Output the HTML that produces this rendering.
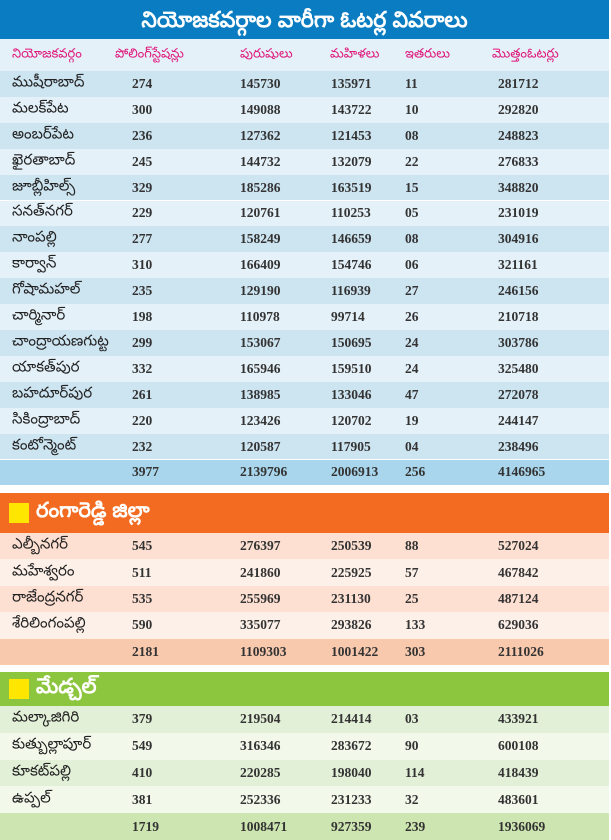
<!DOCTYPE html>
<html><head><meta charset="utf-8"><style>
body{margin:0;width:611px;height:840px;background:#fff;overflow:hidden;font-family:"Liberation Serif",serif;position:relative}
.bar{position:absolute;left:0;width:609px}
.r{position:absolute;left:0;width:609px;font-size:13.5px;font-weight:bold;color:#333}
.r span{position:absolute;top:50%;transform:translateY(-50%);white-space:nowrap}
.n{font-family:"Liberation Sans","Noto Sans CJK JP",sans-serif;font-weight:normal;font-size:15px;color:#222}
.sq{position:absolute;left:9px;width:20px;height:20px;background:#ffe600}
</style></head><body>
<div class="bar" style="top:0;height:39px;background:#0a7dc2;color:#fff;font:bold 22px 'Liberation Sans',sans-serif;text-align:center;line-height:39px">నియోజకవర్గాల వారీగా ఓటర్ల వివరాలు</div>
<div class="r" style="top:39px;height:32px;background:#e4f1f9;color:#e0157a;font-family:'Liberation Sans',sans-serif;font-weight:normal;font-size:13px">
<span style="left:12px">నియోజకవర్గం</span><span style="left:115px">పోలింగ్‌స్టేషన్లు</span><span style="left:240px">పురుషులు</span><span style="left:330px">మహిళలు</span><span style="left:405px">ఇతరులు</span><span style="left:492px">మొత్తంఓటర్లు</span></div>
<div id="t"></div>
<script>
function rows(top,h,data,cols,colsTotal){let s='';data.forEach((d,i)=>{let bg=d.t?colsTotal:cols[i%2];s+=`<div class="r" style="top:${top+i*h}px;height:${h}px;background:${bg}"><span class="n" style="left:12px">${d[0]}</span><span style="left:132px">${d[1]}</span><span style="left:240px">${d[2]}</span><span style="left:331px">${d[3]}</span><span style="left:405px">${d[4]}</span><span style="left:498px">${d[5]}</span></div>`});return s;}
let a=[["ముషీరాబాద్","274","145730","135971","11","281712"],["మలక్‌పేట","300","149088","143722","10","292820"],["అంబర్‌పేట","236","127362","121453","08","248823"],["ఖైరతాబాద్","245","144732","132079","22","276833"],["జూబ్లీహిల్స్","329","185286","163519","15","348820"],["సనత్‌నగర్","229","120761","110253","05","231019"],["నాంపల్లి","277","158249","146659","08","304916"],["కార్వాన్","310","166409","154746","06","321161"],["గోషామహల్","235","129190","116939","27","246156"],["చార్మినార్","198","110978","99714","26","210718"],["చాంద్రాయణగుట్ట","299","153067","150695","24","303786"],["యాకత్‌పుర","332","165946","159510","24","325480"],["బహదూర్‌పుర","261","138985","133046","47","272078"],["సికింద్రాబాద్","220","123426","120702","19","244147"],["కంటోన్మెంట్","232","120587","117905","04","238496"]];
let at=["","3977","2139796","2006913","256","4146965"];at.t=1;a.push(at);
let b=[["ఎల్బీనగర్","545","276397","250539","88","527024"],["మహేశ్వరం","511","241860","225925","57","467842"],["రాజేంద్రనగర్","535","255969","231130","25","487124"],["శేరిలింగంపల్లి","590","335077","293826","133","629036"]];
let bt=["","2181","1109303","1001422","303","2111026"];bt.t=1;b.push(bt);
let c=[["మల్కాజిగిరి","379","219504","214414","03","433921"],["కుత్బుల్లాపూర్","549","316346","283672","90","600108"],["కూకట్‌పల్లి","410","220285","198040","114","418439"],["ఉప్పల్","381","252336","231233","32","483601"]];
let ct=["","1719","1008471","927359","239","1936069"];ct.t=1;c.push(ct);
let h=rows(71,25.9,a,["#cde4f1","#e4f1f9"],"#a9d6ec");
h+=`<div class="bar" style="top:493px;height:40px;background:#f26b21"><div class="sq" style="top:10px"></div><span style="position:absolute;left:36px;top:6px;color:#fff;font:bold 21px 'Liberation Sans',sans-serif">రంగారెడ్డి జిల్లా</span></div>`;
h+=rows(533,26.4,b,["#fde0d2","#fdf0e8"],"#f9c9ad");
h+=`<div class="bar" style="top:672px;height:34px;background:#8cc63f"><div class="sq" style="top:7px"></div><span style="position:absolute;left:36px;top:3px;color:#fff;font:bold 21px 'Liberation Sans',sans-serif">మేడ్చల్</span></div>`;
h+=rows(706,26.8,c,["#e3f0d8","#f2f8ea"],"#cde5b0");
document.getElementById('t').innerHTML=h;
</script>
</body></html>
